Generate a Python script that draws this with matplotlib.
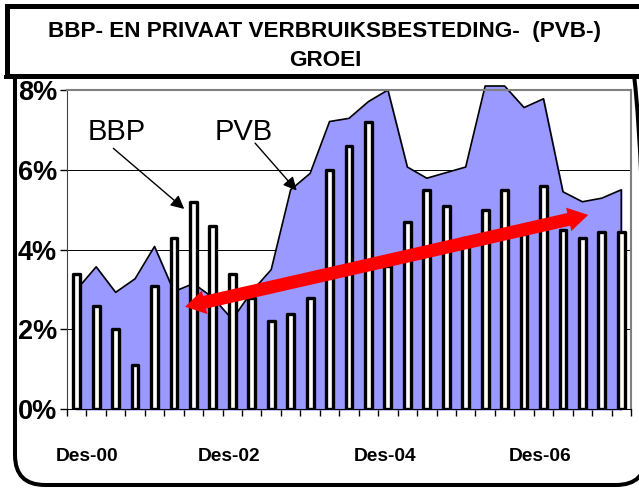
import numpy as np
import matplotlib
matplotlib.use("Agg")
import matplotlib.pyplot as plt
from matplotlib.patches import Polygon, FancyBboxPatch, Rectangle
from matplotlib.transforms import IdentityTransform

plt.rcParams['font.family'] = ['Liberation Sans', 'DejaVu Sans']

# kwartalen Des-00 .. Des-07
quarters = np.arange(29)
bbp = [3.4, 2.6, 2.0, 1.1, 3.1, 4.3, 5.2, 4.6, 3.4, 2.8, 2.2, 2.4, 2.8, 6.0, 6.6,
       7.2, 3.6, 4.7, 5.5, 5.1, 4.3, 5.0, 5.5, 4.4, 5.6, 4.5, 4.3, 4.45, 4.45]
pvb = [3.0, 3.57, 2.93, 3.27, 4.08, 2.95, 3.15, 2.8, 2.25, 2.95, 3.5, 5.5, 5.91, 7.21, 7.29,
       7.71, 8.0, 6.07, 5.79, 5.93, 6.07, 8.1, 8.1, 7.56, 7.78, 5.45, 5.2, 5.29, 5.5]
tick_labels = ['Des-00', 'Des-02', 'Des-04', 'Des-06']
y_ticks = [0, 2, 4, 6, 8]
y_labels = ['0%', '2%', '4%', '6%', '8%']
trend_start = (5.57, 2.57)
trend_end = (26.3, 4.87)

W, H = 639, 488
fig = plt.figure(figsize=(W / 100, H / 100), dpi=100)

# rounded outer frame (top hidden under the title box), pixel coords
frame = FancyBboxPatch((15, 3), 631, 470, boxstyle='round,pad=0,rounding_size=30',
                       transform=IdentityTransform(), fill=False, lw=2.9, ec='black', zorder=1)
fig.add_artist(frame)
fig.add_artist(Rectangle((6.5, H - 75.5), 700, 70, transform=IdentityTransform(),
                         fc='white', ec='black', lw=3.6, zorder=2))
fig.add_artist(Rectangle((4, H - 79), 700, 4, transform=IdentityTransform(),
                         fc='black', ec='none', zorder=2))
fig.text(325 / W, 1 - 37.3 / H, 'BBP- EN PRIVAAT VERBRUIKSBESTEDING-  (PVB-)',
         ha='center', va='baseline', fontsize=16.2, fontweight='bold', zorder=3)
fig.text(325 / W, 1 - 66 / H, 'GROEI', ha='center', va='baseline',
         fontsize=16.2, fontweight='bold', zorder=3)

ax = fig.add_axes([67 / W, (H - 409.3) / H, 564 / W, (409.3 - 90) / H])
ax.set_xlim(-0.5, 28.5)
ax.set_ylim(0, 8)

ax.fill_between(quarters, pvb, color='#9999FF', zorder=2, clip_on=False)
ax.plot(np.r_[quarters[0], quarters, quarters[-1]], np.r_[0, pvb, 0],
        color='black', lw=1.2, zorder=2.1, clip_on=False)
ax.bar(quarters, bbp, width=0.35, color='white', edgecolor='black',
       linewidth=2.4, zorder=3, joinstyle='round')

ax.grid(axis='y', color='black', lw=0.7)
ax.set_axisbelow(True)

for s in ['top', 'right']:
    ax.spines[s].set_color('#808080')
    ax.spines[s].set_linewidth(1.5)
ax.spines['left'].set_color('#404040')
ax.spines['bottom'].set_color('black')

ax.set_xticks([0.55, 7.85, 15.85, 23.85])
ax.set_xticklabels(tick_labels, fontsize=13.8, fontweight='bold')
ax.tick_params(axis='x', which='major', length=0, pad=28)
ax.set_xticks(np.arange(-0.5, 29, 1), minor=True)
ax.tick_params(axis='x', which='minor', length=5, width=1, direction='out')

ax.set_yticks(y_ticks)
ax.set_yticklabels(y_labels, fontsize=19.5, fontweight='bold')
ax.tick_params(axis='y', length=5, width=1, pad=2.2)

# labels with pointers
ax.text(2.06, 6.75, 'BBP', fontsize=21, ha='center', va='baseline')
ax.text(8.6, 6.75, 'PVB', fontsize=21, ha='center', va='baseline')
ax.annotate('', xy=(5.53, 5.02), xytext=(1.88, 6.54),
            arrowprops=dict(arrowstyle='-|>', color='black', lw=1, mutation_scale=20,
                            shrinkA=0, shrinkB=0), zorder=4)
ax.annotate('', xy=(11.31, 5.48), xytext=(9.17, 6.67),
            arrowprops=dict(arrowstyle='-|>', color='black', lw=1, mutation_scale=20,
                            shrinkA=0, shrinkB=0), zorder=4)

# red double-headed trend arrow, built in pixels
p0 = ax.transData.transform(trend_start)
p1 = ax.transData.transform(trend_end)
u = (p1 - p0) / np.hypot(*(p1 - p0))
n = np.array([-u[1], u[0]])
s, h, L = 6.5, 12, 20
pts = [p0, p0 + u * L + n * h, p0 + u * L + n * s, p1 - u * L + n * s, p1 - u * L + n * h,
       p1, p1 - u * L - n * h, p1 - u * L - n * s, p0 + u * L - n * s, p0 + u * L - n * h]
ax.add_patch(Polygon(pts, closed=True, transform=IdentityTransform(),
                     fc='red', ec='none', zorder=5))

fig.savefig('out.png', dpi=100)
